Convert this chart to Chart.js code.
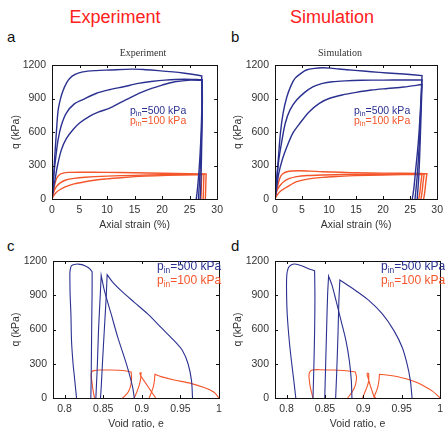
<!DOCTYPE html>
<html>
<head>
<meta charset="utf-8">
<script src="https://cdn.jsdelivr.net/npm/chart.js@4.4.1/dist/chart.umd.min.js"></script>
<style>
  html, body { margin: 0; padding: 0; background: #fff; width: 448px; height: 428px; overflow: hidden; }
  canvas { position: absolute; }
  .head { position: absolute; width: 200px; text-align: center; font-family: "Liberation Sans", Arial, sans-serif;
          font-size: 18px; line-height: 18px; color: #ff2020; }
  .tag { position: absolute; font-family: "Liberation Sans", Arial, sans-serif; font-size: 15px; line-height: 15px; color: #111; }
</style>
</head>
<body>
<div class="head" style="left:15px; top:8px;">Experiment</div>
<div class="head" style="left:232px; top:8px;">Simulation</div>
<div class="tag" style="left:7px; top:29px;">a</div>
<div class="tag" style="left:231px; top:29px;">b</div>
<div class="tag" style="left:7px; top:238px;">c</div>
<div class="tag" style="left:231px; top:238px;">d</div>

<canvas id="chartA" width="228" height="191" style="left:0; top:40px;"></canvas>
<canvas id="chartB" width="224" height="191" style="left:224px; top:40px;"></canvas>
<canvas id="chartC" width="228" height="190" style="left:0; top:240px;"></canvas>
<canvas id="chartD" width="224" height="190" style="left:224px; top:240px;"></canvas>

<script>
// axis ticks
const strainTicks = [0, 5, 10, 15, 20, 25, 30];
const qTicks = [0, 300, 600, 900, 1200];
const voidTicks = [0.8, 0.85, 0.9, 0.95, 1];
const legendLabels = ["=500 kPa", "=100 kPa"];

// a: experiment, [axial strain %, q kPa]  (corner point written twice)
const expStrainBlue1 = [[0,0],[0.2,120],[0.5,380],[0.8,600],[1.1,790],[1.5,890],[2.0,970],[2.6,1035],[3.2,1080],[4.2,1115],[5.6,1138],[8,1150],[10.4,1155],[14.5,1163],[17,1158],[19.3,1150],[22,1138],[24.1,1126],[26,1113],[27.2,1102],[27.2,1102],[27.2,800],[27.0,500],[26.7,250],[26.4,80],[26.2,0]];
const expStrainBlue2 = [[0,0],[0.3,200],[0.7,380],[1.1,530],[1.7,660],[2.6,770],[4,850],[5.6,890],[8,945],[10.4,978],[13,1005],[15.7,1035],[18,1052],[20.5,1065],[24,1073],[27.3,1068],[27.3,1068],[27.3,800],[27.1,500],[26.9,250],[26.7,80],[26.6,0]];
const expStrainBlue3 = [[0,0],[0.3,100],[0.54,170],[1.0,300],[1.7,440],[2.6,540],[3.8,620],[5,680],[6.8,740],[8.5,780],[10.4,812],[12.5,865],[14.5,915],[16,950],[18.1,990],[20,1020],[22.3,1050],[25.2,1065],[27.3,1062],[27.3,1062],[27.3,800],[27.2,500],[27.1,250],[27.0,80],[26.9,0]];
const expStrainOrange1 = [[0,0],[0.2,50],[0.5,130],[0.9,190],[1.4,220],[2,232],[3,238],[5,240],[10,238],[15,235],[20,230],[25,226],[28,224],[28,224],[27.95,150],[27.9,60],[27.85,0]];
const expStrainOrange2 = [[0,0],[0.3,60],[0.8,110],[1.5,145],[2.5,170],[4,185],[6,195],[10,205],[15,212],[20,217],[25,220],[27.6,221],[27.6,221],[27.55,150],[27.5,60],[27.45,0]];
const expStrainOrange3 = [[0,0],[0.3,30],[0.8,60],[1.5,85],[2.5,110],[4,135],[6,155],[8,170],[10,180],[13,193],[17,205],[21,212],[25,216],[27.2,218],[27.2,218],[27.15,150],[27.1,60],[27.05,0]];

// b: simulation, [axial strain %, q kPa]
const simStrainBlue1 = [[0,0],[0.3,180],[0.6,350],[1.0,590],[1.5,770],[2.2,916],[3,1020],[3.7,1080],[4.8,1125],[5.8,1155],[7.3,1170],[8.8,1176],[10.3,1172],[11.8,1164],[14.8,1152],[17.8,1140],[20.8,1129],[23.8,1119],[27.2,1105],[27.2,1105],[26.9,800],[26.5,500],[26.0,250],[25.7,100],[25.4,0]];
const simStrainBlue2 = [[0,0],[0.3,150],[0.7,349],[1.2,500],[1.9,678],[2.8,800],[4.0,886],[5.5,955],[7.0,1005],[8.8,1035],[10.6,1050],[13,1058],[16,1063],[20,1065],[24,1066],[27.2,1066],[27.2,1066],[26.95,800],[26.7,500],[26.3,200],[25.9,0]];
const simStrainBlue3 = [[0,0],[0.3,100],[0.7,230],[1.4,360],[2.2,468],[3.3,590],[4.6,678],[6.3,780],[8.2,857],[10,900],[12.4,931],[15,955],[17.8,976],[20.8,990],[23.8,1003],[27.2,1025],[27.2,1025],[27.05,800],[26.85,500],[26.6,200],[26.3,0]];
const simStrainOrange1 = [[0,0],[0.2,51],[0.5,120],[1.0,200],[1.5,228],[2.2,244],[3.2,251],[4.6,253],[6.5,250],[8.8,244],[12,240],[14.8,235],[20,232],[26.8,228],[28.1,226],[28.1,226],[27.9,150],[27.7,60],[27.5,0]];
const simStrainOrange2 = [[0,0],[0.4,81],[1.0,125],[1.6,155],[2.6,182],[4.0,200],[6,210],[8.8,215],[13,219],[17.8,221],[23,223],[27.6,224],[27.6,224],[27.4,150],[27.2,60],[27.0,0]];
const simStrainOrange3 = [[0,0],[0.4,36],[1.0,70],[1.8,96],[2.8,125],[4.0,155],[6,178],[8.8,194],[12,203],[14.8,209],[20,215],[27.2,221],[27.2,221],[27.0,150],[26.8,60],[26.6,0]];

// c: experiment, [void ratio e, q kPa]
const expVoidBlue1 = [[0.8155,0],[0.8125,200],[0.811,298],[0.809,500],[0.8082,736],[0.8072,900],[0.8069,1027],[0.8069,1100],[0.8078,1140],[0.809,1159],[0.8125,1170],[0.8177,1173],[0.8225,1168],[0.8262,1159],[0.83,1145],[0.8327,1130],[0.8357,1105],[0.8357,1105],[0.8356,900],[0.8352,700],[0.8348,400],[0.8344,150],[0.834,0]];
const expVoidBlue2 = [[0.8903,0],[0.8882,93],[0.8839,210],[0.8774,356],[0.8689,531],[0.8603,736],[0.8516,940],[0.8474,1075],[0.8474,1075],[0.8462,900],[0.844,600],[0.8425,300],[0.8412,100],[0.8405,0]];
const expVoidBlue3 = [[0.9657,0],[0.9644,152],[0.96,298],[0.9528,414],[0.9419,502],[0.9248,619],[0.9076,736],[0.8903,838],[0.8732,940],[0.8625,1013],[0.8551,1080],[0.8551,1080],[0.854,900],[0.8515,600],[0.849,300],[0.8475,100],[0.8465,0]];
const expVoidOrange1 = [[0.8387,0],[0.8366,80],[0.8353,150],[0.8345,200],[0.8352,230],[0.838,240],[0.845,245],[0.86,245],[0.87,243],[0.88,236],[0.8862,228],[0.8862,228],[0.8868,180],[0.886,120],[0.883,60],[0.8785,20],[0.875,0]];
const expVoidOrange2 = [[0.918,0],[0.914,40],[0.909,90],[0.904,140],[0.9,180],[0.898,205],[0.8975,218],[0.899,221],[0.899,221],[0.8985,170],[0.897,120],[0.894,60],[0.8915,20],[0.89,0]];
const expVoidOrange3 = [[1.0,0],[0.9935,50],[0.9806,91],[0.9635,128],[0.9419,158],[0.9248,187],[0.917,207],[0.917,207],[0.9165,160],[0.915,100],[0.9125,50],[0.9105,15],[0.9095,0]];

// d: simulation, [void ratio e, q kPa]
const simVoidBlue1 = [[0.8121,0],[0.8095,152],[0.8044,444],[0.8009,736],[0.8,969],[0.8005,1086],[0.8026,1144],[0.8065,1168],[0.8108,1174],[0.8194,1159],[0.828,1135],[0.8366,1115],[0.8366,1115],[0.837,881],[0.8366,589],[0.8357,298],[0.8345,0]];
const simVoidBlue2 = [[0.8852,0],[0.8844,152],[0.8818,327],[0.8774,502],[0.871,677],[0.8645,853],[0.8594,984],[0.8548,1068],[0.8548,1068],[0.8535,900],[0.8522,600],[0.851,300],[0.8498,0]];
const simVoidBlue3 = [[0.9635,0],[0.9613,152],[0.957,298],[0.9506,444],[0.9399,590],[0.9248,736],[0.9076,853],[0.8903,940],[0.8774,998],[0.8695,1034],[0.8695,1034],[0.8682,850],[0.867,550],[0.8655,250],[0.864,0]];
const simVoidOrange1 = [[0.8345,0],[0.831,93],[0.8293,181],[0.83,225],[0.8335,245],[0.8431,248],[0.8603,245],[0.8774,239],[0.8895,228],[0.8895,228],[0.8912,181],[0.8895,108],[0.8852,50],[0.8796,0]];
const simVoidOrange2 = [[0.9145,0],[0.912,50],[0.909,110],[0.9065,170],[0.905,205],[0.9055,218],[0.907,214],[0.907,214],[0.907,150],[0.905,100],[0.902,50],[0.899,0]];
const simVoidOrange3 = [[1.0,0],[0.9955,30],[0.99,60],[0.98,100],[0.97,135],[0.96,160],[0.95,178],[0.94,192],[0.93,202],[0.921,208],[0.921,208],[0.9205,160],[0.919,100],[0.9165,50],[0.9145,15],[0.916,0]];

const BLUE = "#2b3190";
const ORANGE = "#f4562b";
const FONT = '"Liberation Sans", Arial, sans-serif';
const SERIF = '"Liberation Serif", "Times New Roman", serif';

Chart.defaults.font.family = FONT;
Chart.defaults.font.size = 10.5;
Chart.defaults.color = "#333";

function line(points, color, width) {
  return {
    data: points.map(p => ({ x: p[0], y: p[1] })),
    showLine: true,
    borderColor: color,
    borderWidth: width,
    pointRadius: 0,
    tension: 0.3,
    fill: false
  };
}

// frame round the plot with small inward ticks on every side
const boxPlugin = {
  id: "box",
  afterDatasetsDraw(chart) {
    const ctx = chart.ctx, a = chart.chartArea;
    const xs = chart.scales.x, ys = chart.scales.y;
    ctx.save();
    ctx.strokeStyle = "#111";
    ctx.lineWidth = 1;
    ctx.strokeRect(Math.round(a.left) + 0.5, Math.round(a.top) + 0.5,
      Math.round(a.right - a.left), Math.round(a.bottom - a.top));
    ctx.beginPath();
    xs.ticks.forEach(t => {
      const px = Math.round(xs.getPixelForValue(t.value)) + 0.5;
      ctx.moveTo(px, a.bottom); ctx.lineTo(px, a.bottom - 3);
      ctx.moveTo(px, a.top); ctx.lineTo(px, a.top + 3);
    });
    ys.ticks.forEach(t => {
      const py = Math.round(ys.getPixelForValue(t.value)) + 0.5;
      ctx.moveTo(a.left, py); ctx.lineTo(a.left + 3, py);
      ctx.moveTo(a.right, py); ctx.lineTo(a.right - 3, py);
    });
    ctx.stroke();
    ctx.restore();
  }
};

// legend text with a subscript "in", plus the small serif caption above the plot
function textPlugin(cfg) {
  return {
    id: "panelText",
    afterDatasetsDraw(chart) {
      const ctx = chart.ctx, a = chart.chartArea;
      const leg = cfg.legend, s = leg.size;
      ctx.save();
      ctx.textBaseline = "middle";
      ctx.textAlign = "left";
      [BLUE, ORANGE].forEach((color, i) => {
        let x = a.left + leg.dx;
        const y = a.top + leg.dy + i * leg.gap;
        ctx.fillStyle = color;
        ctx.font = s + "px " + FONT;
        ctx.fillText("p", x, y);
        x += ctx.measureText("p").width;
        ctx.font = (s * 0.7) + "px " + FONT;
        ctx.fillText("in", x, y + s * 0.3);
        x += ctx.measureText("in").width;
        ctx.font = s + "px " + FONT;
        ctx.fillText(legendLabels[i], x, y);
      });
      if (cfg.caption) {
        ctx.fillStyle = "#333";
        ctx.textAlign = "center";
        ctx.font = "10px " + SERIF;
        ctx.fillText(cfg.caption, cfg.captionX, a.top - 12);
      }
      ctx.restore();
    }
  };
}

function makePanel(id, cfg) {
  const lw = cfg.lw;
  const datasets = cfg.blue.map(c => line(c, BLUE, lw)).concat(cfg.orange.map(c => line(c, ORANGE, lw)));
  return new Chart(document.getElementById(id), {
    type: "scatter",
    data: { datasets: datasets },
    options: {
      responsive: false,
      animation: false,
      events: [],
      layout: { padding: cfg.pad },
      plugins: {
        legend: { display: false },
        tooltip: { enabled: false },
        title: { display: false }
      },
      scales: {
        x: {
          type: "linear",
          min: cfg.xMin, max: cfg.xMax,
          grid: { display: false, drawTicks: false },
          border: { display: false },
          afterBuildTicks: s => { s.ticks = cfg.xTicks.map(v => ({ value: v })); },
          afterFit: s => { s.height = 32; },
          ticks: { padding: 5, maxRotation: 0, autoSkip: false, callback: v => String(+(+v).toFixed(2)) },
          title: { display: true, text: cfg.xTitle, padding: 0 }
        },
        y: {
          type: "linear",
          min: 0, max: 1200,
          grid: { display: false, drawTicks: false },
          border: { display: false },
          afterBuildTicks: s => { s.ticks = qTicks.map(v => ({ value: v })); },
          afterFit: s => { s.width = cfg.yw; },
          ticks: { padding: 6, callback: v => String(v) },
          title: { display: true, text: "q (kPa)", padding: 0 }
        }
      }
    },
    plugins: [boxPlugin, textPlugin(cfg)]
  });
}

makePanel("chartA", {
  caption: "Experiment", captionX: 143, lw: 1.4,
  blue: [expStrainBlue1, expStrainBlue2, expStrainBlue3],
  orange: [expStrainOrange1, expStrainOrange2, expStrainOrange3],
  xMin: 0, xMax: 30, xTicks: strainTicks, xTitle: "Axial strain (%)",
  pad: { left: 10, right: 8, top: 25, bottom: 0 }, yw: 42,
  legend: { dx: 78, dy: 46, gap: 10, size: 10.5 }
});
makePanel("chartB", {
  caption: "Simulation", captionX: 116, lw: 1.4,
  blue: [simStrainBlue1, simStrainBlue2, simStrainBlue3],
  orange: [simStrainOrange1, simStrainOrange2, simStrainOrange3],
  xMin: 0, xMax: 30, xTicks: strainTicks, xTitle: "Axial strain (%)",
  pad: { left: 8, right: 6, top: 25, bottom: 0 }, yw: 43,
  legend: { dx: 79, dy: 46, gap: 10, size: 10.5 }
});
makePanel("chartC", {
  caption: null, lw: 1.1,
  blue: [expVoidBlue1, expVoidBlue2, expVoidBlue3],
  orange: [expVoidOrange1, expVoidOrange2, expVoidOrange3],
  xMin: 0.785, xMax: 1.0, xTicks: voidTicks, xTitle: "Void ratio, e",
  pad: { left: 10, right: 9, top: 21, bottom: 0 }, yw: 43,
  legend: { dx: 104, dy: 6, gap: 14, size: 12 }
});
makePanel("chartD", {
  caption: null, lw: 1.1,
  blue: [simVoidBlue1, simVoidBlue2, simVoidBlue3],
  orange: [simVoidOrange1, simVoidOrange2, simVoidOrange3],
  xMin: 0.785, xMax: 1.0, xTicks: voidTicks, xTitle: "Void ratio, e",
  pad: { left: 8, right: 6, top: 21, bottom: 0 }, yw: 43,
  legend: { dx: 106, dy: 6, gap: 14, size: 12 }
});
</script>
</body>
</html>
